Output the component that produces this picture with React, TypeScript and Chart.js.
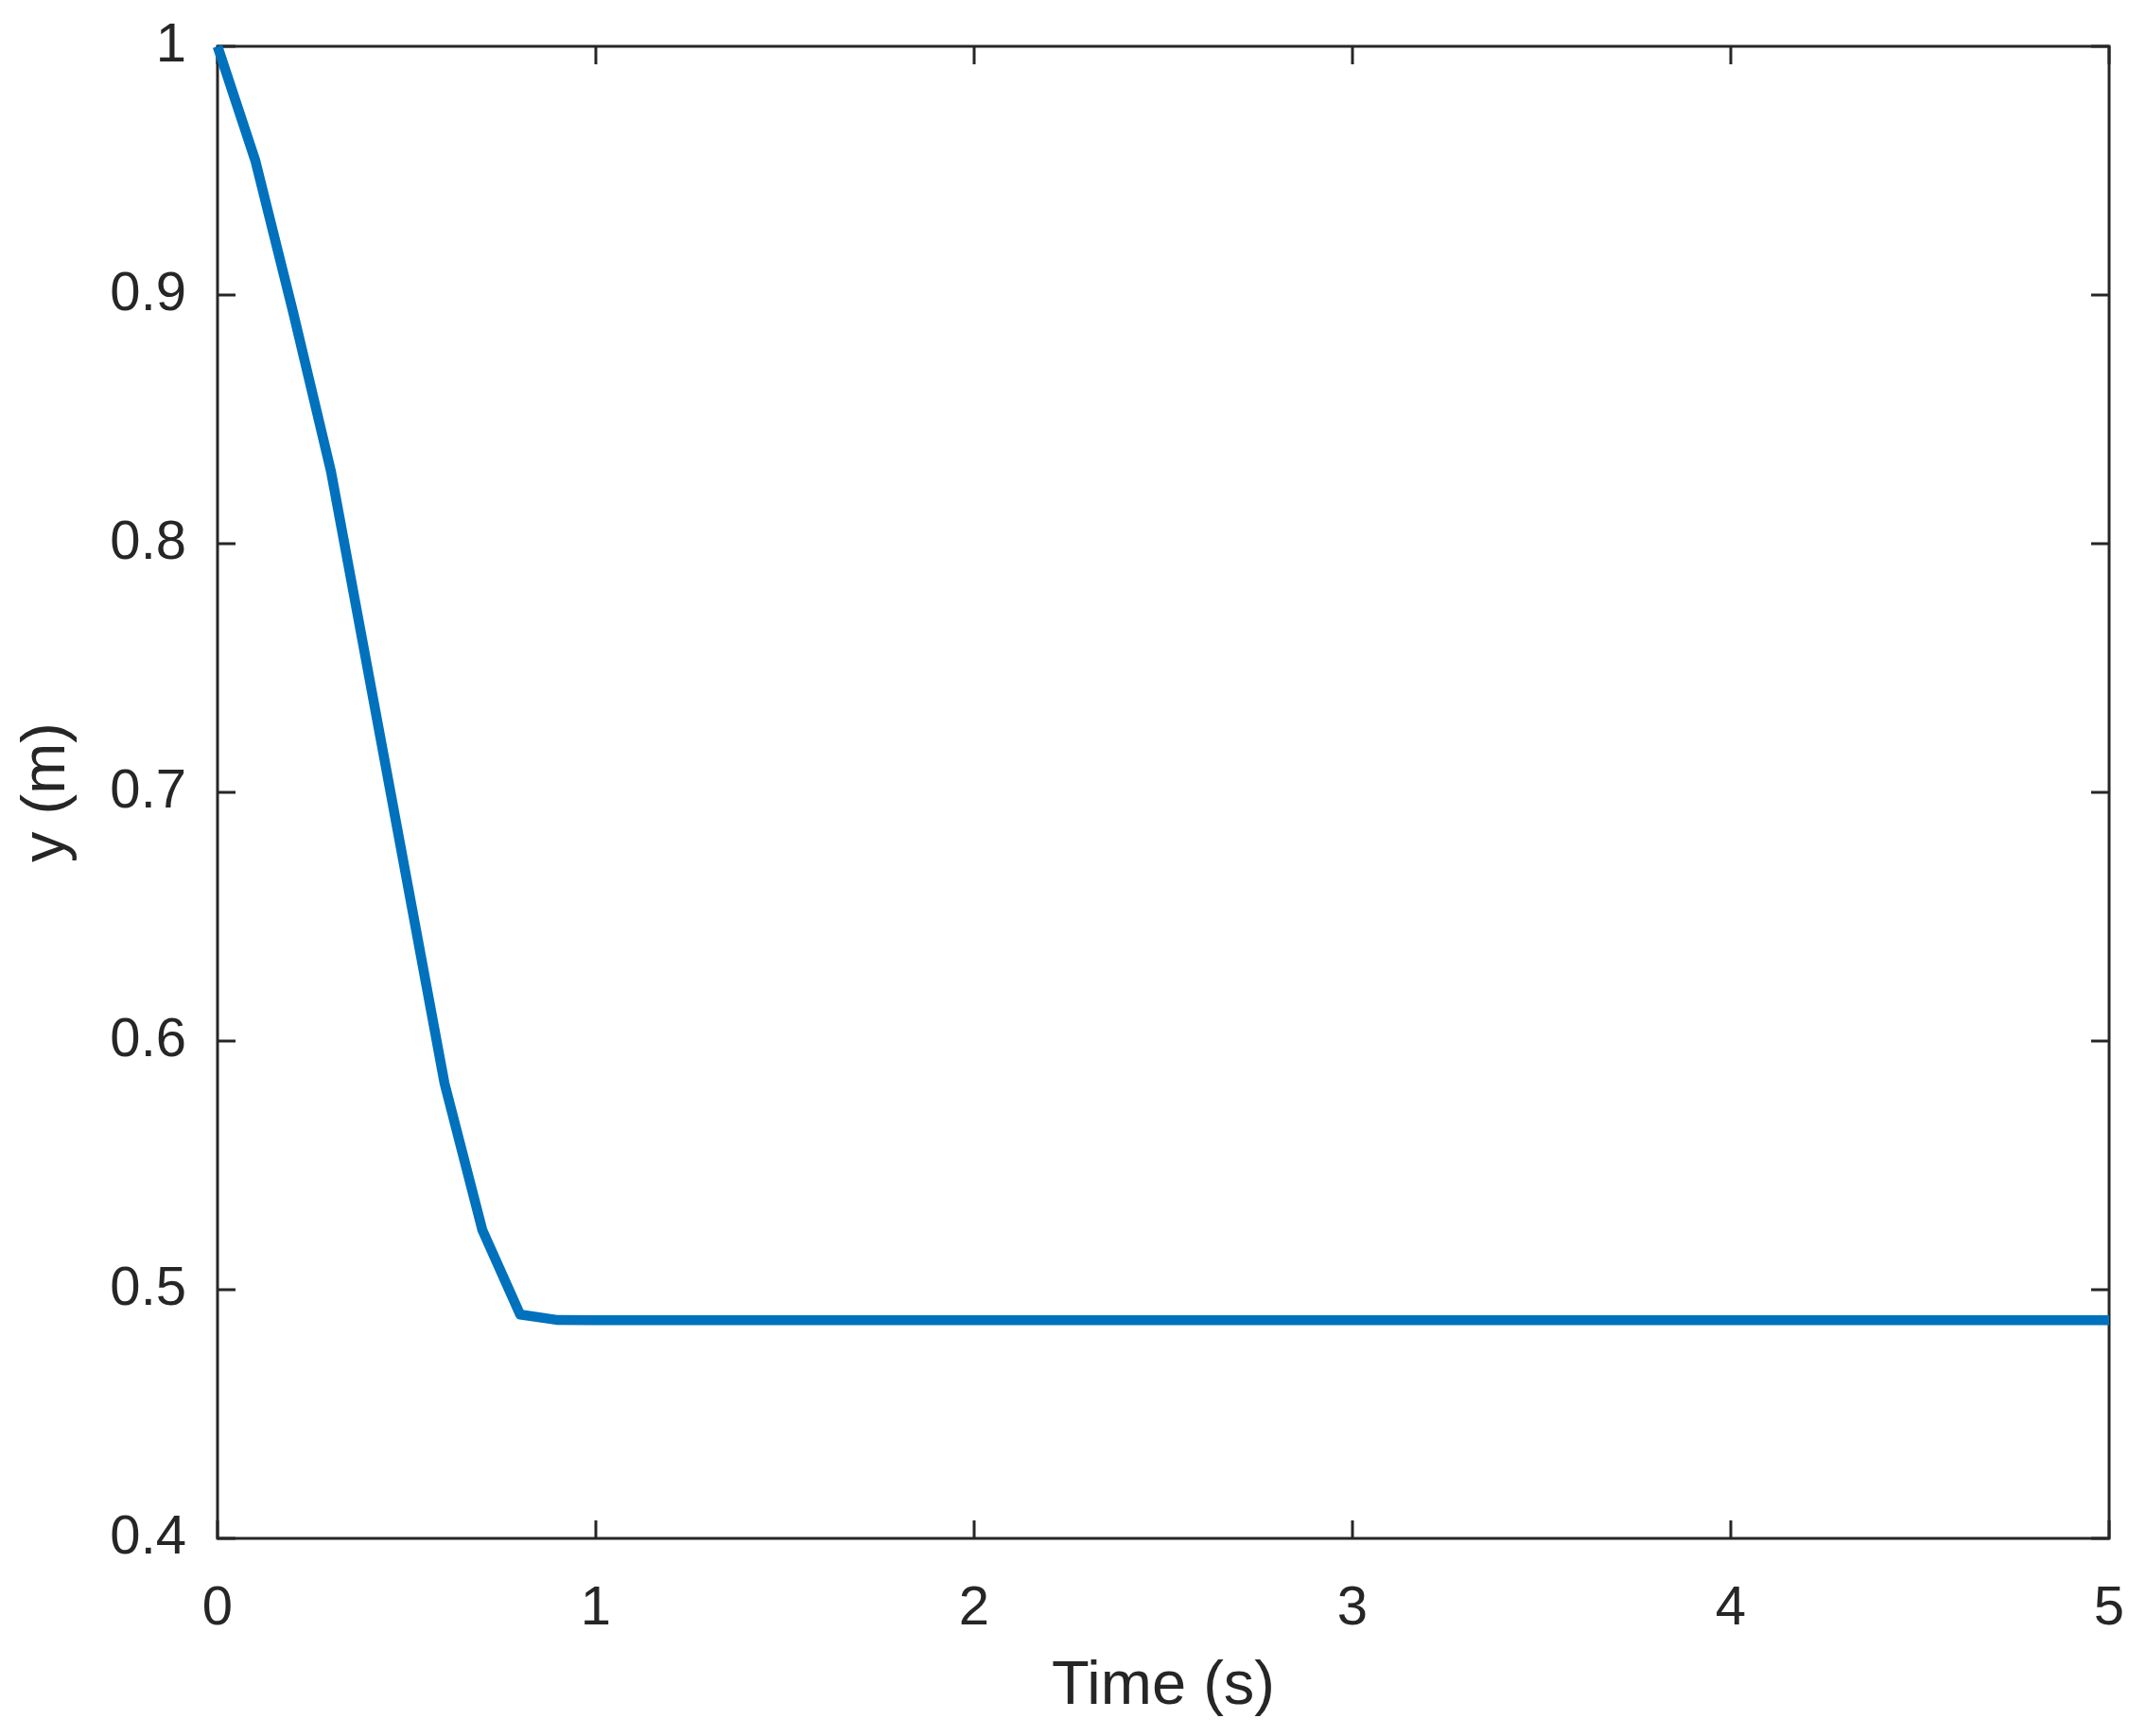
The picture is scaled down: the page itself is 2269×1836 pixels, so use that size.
import React, { useEffect, useRef } from "react";
import { Chart, registerables } from "chart.js";

Chart.register(...registerables);

const timeS: number[] = [
  0, 0.1, 0.2, 0.3, 0.4, 0.5, 0.6, 0.7, 0.8, 0.9,
  1.0, 1.1, 1.2, 1.3, 1.4, 1.5, 1.6, 1.7, 1.8, 1.9,
  2.0, 2.1, 2.2, 2.3, 2.4, 2.5, 2.6, 2.7, 2.8, 2.9,
  3.0, 3.1, 3.2, 3.3, 3.4, 3.5, 3.6, 3.7, 3.8, 3.9,
  4.0, 4.1, 4.2, 4.3, 4.4, 4.5, 4.6, 4.7, 4.8, 4.9,
  5.0,
];

const yM: number[] = [
  1.0, 0.954, 0.893, 0.829, 0.747, 0.665, 0.583, 0.524, 0.490, 0.4878,
  0.4877, 0.4877, 0.4877, 0.4877, 0.4877, 0.4877, 0.4877, 0.4877, 0.4877, 0.4877,
  0.4877, 0.4877, 0.4877, 0.4877, 0.4877, 0.4877, 0.4877, 0.4877, 0.4877, 0.4877,
  0.4877, 0.4877, 0.4877, 0.4877, 0.4877, 0.4877, 0.4877, 0.4877, 0.4877, 0.4877,
  0.4877, 0.4877, 0.4877, 0.4877, 0.4877, 0.4877, 0.4877, 0.4877, 0.4877, 0.4877,
  0.4877,
];

const xTickValues: number[] = [0, 1, 2, 3, 4, 5];
const xTickLabels: string[] = ["0", "1", "2", "3", "4", "5"];
const yTickValues: number[] = [0.4, 0.5, 0.6, 0.7, 0.8, 0.9, 1.0];
const yTickLabels: string[] = ["0.4", "0.5", "0.6", "0.7", "0.8", "0.9", "1"];

const xTitle = "Time (s)";
const yTitle = "y (m)";

const W = 2269;
const H = 1836;
const PLOT_LEFT = 230;
const PLOT_RIGHT = 2230;
const PLOT_TOP = 49;
const PLOT_BOTTOM = 1627;

const AXIS_COLOR = "#262626";
const LINE_COLOR = "#0072BD";
const FONT = "'Liberation Sans', Arial, Helvetica, sans-serif";

function labelFor(values: number[], labels: string[], v: number): string {
  for (let i = 0; i < values.length; i++) {
    if (Math.abs(values[i] - v) < 1e-6) return labels[i];
  }
  return "";
}

const framePlugin = {
  id: "matlabFrame",
  beforeDatasetsDraw(chart: any) {
    const { ctx, chartArea, scales } = chart;
    const { left, right, top, bottom } = chartArea;
    const tl = 19;
    ctx.save();
    ctx.strokeStyle = AXIS_COLOR;
    ctx.lineWidth = 3;
    ctx.lineCap = "butt";
    ctx.strokeRect(left, top, right - left, bottom - top);
    ctx.beginPath();
    for (const v of xTickValues) {
      const px = scales.x.getPixelForValue(v);
      ctx.moveTo(px, bottom);
      ctx.lineTo(px, bottom - tl);
      ctx.moveTo(px, top);
      ctx.lineTo(px, top + tl);
    }
    for (const v of yTickValues) {
      const py = scales.y.getPixelForValue(v);
      ctx.moveTo(left, py);
      ctx.lineTo(left + tl, py);
      ctx.moveTo(right, py);
      ctx.lineTo(right - tl, py);
    }
    ctx.stroke();
    ctx.restore();
  },
};

export default function App() {
  const canvasRef = useRef<HTMLCanvasElement | null>(null);

  useEffect(() => {
    const canvas = canvasRef.current;
    if (!canvas) return;
    const points = timeS.map((t, i) => ({ x: t, y: yM[i] }));
    const chart = new Chart(canvas, {
      type: "line",
      data: {
        datasets: [
          {
            data: points,
            borderColor: LINE_COLOR,
            backgroundColor: LINE_COLOR,
            borderWidth: 10.5,
            pointRadius: 0,
            tension: 0,
            fill: false,
            clip: false as any,
            borderJoinStyle: "round",
          } as any,
        ],
      },
      options: {
        responsive: false,
        animation: false,
        devicePixelRatio: 1,
        layout: {
          padding: { left: 0, top: PLOT_TOP, right: W - PLOT_RIGHT, bottom: 0 },
        },
        plugins: {
          legend: { display: false },
          tooltip: { enabled: false },
        },
        scales: {
          x: {
            type: "linear",
            min: 0,
            max: 5,
            afterFit: (scale: any) => {
              scale.height = H - PLOT_BOTTOM;
              scale.paddingLeft = 0;
              scale.paddingRight = 0;
              scale.paddingTop = 0;
              scale.paddingBottom = 0;
            },
            afterBuildTicks: (scale: any) => {
              scale.ticks = xTickValues.map((v) => ({ value: v }));
            },
            grid: { display: false, drawTicks: false },
            border: { display: false },
            ticks: {
              padding: 40,
              color: AXIS_COLOR,
              font: { family: FONT, size: 58 },
              maxRotation: 0,
              autoSkip: false,
              callback: (v: any) => labelFor(xTickValues, xTickLabels, Number(v)),
            },
            title: {
              display: true,
              text: xTitle,
              color: AXIS_COLOR,
              font: { family: FONT, size: 65 },
              padding: { top: 0, bottom: 13 },
            },
          },
          y: {
            type: "linear",
            min: 0.4,
            max: 1,
            afterFit: (scale: any) => {
              scale.width = PLOT_LEFT;
              scale.paddingLeft = 0;
              scale.paddingRight = 0;
              scale.paddingTop = 0;
              scale.paddingBottom = 0;
            },
            afterBuildTicks: (scale: any) => {
              scale.ticks = yTickValues.map((v) => ({ value: v }));
            },
            grid: { display: false, drawTicks: false },
            border: { display: false },
            ticks: {
              padding: 33,
              color: AXIS_COLOR,
              font: { family: FONT, size: 58 },
              autoSkip: false,
              callback: (v: any) => labelFor(yTickValues, yTickLabels, Number(v)),
            },
            title: {
              display: true,
              text: yTitle,
              color: AXIS_COLOR,
              font: { family: FONT, size: 65 },
              padding: { top: 11, bottom: 0 },
            },
          },
        },
      },
      plugins: [framePlugin],
    });
    return () => chart.destroy();
  }, []);

  return (
    <div style={{ position: "absolute", left: 0, top: 0, width: W, height: H, background: "#fff" }}>
      <canvas ref={canvasRef} width={W} height={H} style={{ width: W, height: H, display: "block" }} />
    </div>
  );
}
